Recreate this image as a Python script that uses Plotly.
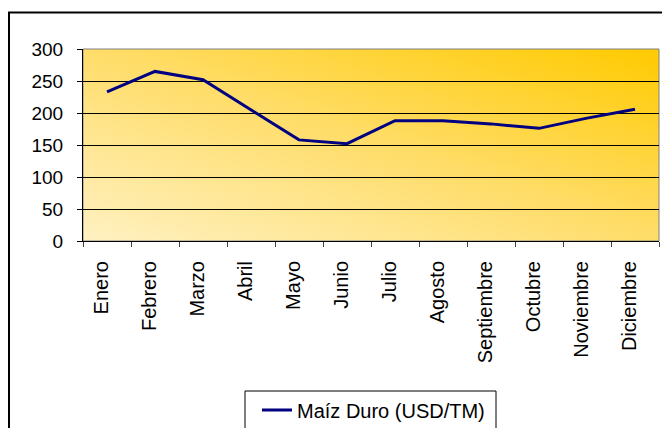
import base64
import plotly.graph_objects as go

meses = ["Enero", "Febrero", "Marzo", "Abril", "Mayo", "Junio", "Julio",
         "Agosto", "Septiembre", "Octubre", "Noviembre", "Diciembre"]
maiz_duro = [233, 265, 252, 205, 158, 152, 188, 188, 183, 176, 192, 206]
serie_nombre = "Maíz Duro (USD/TM)"
y_ticks = [0, 50, 100, 150, 200, 250, 300]

W, H = 662, 428
L, R, T, B = 83, 3, 49, 187  # plot area pixels: x 83..659, y 49..241
pw, ph = W - L - R, H - T - B

def px_x(px):
    return (px - L) / pw

def px_y(py):
    return (H - B - py) / ph

svg = ('<svg xmlns="http://www.w3.org/2000/svg" width="576" height="192" '
       'preserveAspectRatio="none">'
       '<defs><linearGradient id="g" x1="0" y1="1" x2="1" y2="0">'
       '<stop offset="0" stop-color="#FFF1C2"/>'
       '<stop offset="0.5" stop-color="#FFDD6A"/>'
       '<stop offset="1" stop-color="#FFCA00"/>'
       '</linearGradient></defs>'
       '<rect width="576" height="192" fill="url(#g)"/></svg>')
bg_src = "data:image/svg+xml;base64," + base64.b64encode(svg.encode()).decode()

FONT = "Liberation Sans, Arial, sans-serif"

fig = go.Figure()
fig.add_trace(go.Scatter(
    x=meses, y=maiz_duro, mode="lines", name=serie_nombre,
    line=dict(color="#000080", width=3),
))

fig.update_layout(
    width=W, height=H,
    margin=dict(l=L, r=R, t=T, b=B, autoexpand=False),
    paper_bgcolor="white",
    plot_bgcolor="rgba(0,0,0,0)",
    font=dict(family=FONT, size=19, color="black"),
    showlegend=True,
    legend=dict(
        x=px_x(257), xanchor="left",
        y=px_y(410), yanchor="middle",
        bgcolor="rgba(0,0,0,0)", borderwidth=0,
        font=dict(family=FONT, size=20, color="black"),
    ),
    images=[dict(
        source=bg_src, xref="paper", yref="paper",
        x=0, y=1, sizex=1, sizey=1, sizing="stretch",
        xanchor="left", yanchor="top", layer="below",
    )],
    shapes=[
        # plot area border (gray)
        dict(type="rect", xref="paper", yref="paper", x0=0, y0=0, x1=1, y1=1,
             line=dict(color="#808080", width=1), layer="below"),
        # outer chart border
        dict(type="rect", xref="paper", yref="paper",
             x0=px_x(9), y0=px_y(445), x1=px_x(680), y1=px_y(12.5),
             line=dict(color="black", width=2), fillcolor="rgba(0,0,0,0)"),
        # legend box
        dict(type="rect", xref="paper", yref="paper",
             x0=px_x(245), y0=px_y(445), x1=px_x(496), y1=px_y(391),
             line=dict(color="black", width=1), fillcolor="rgba(0,0,0,0)"),
    ],
)

fig.update_xaxes(
    type="category", tickangle=-90, range=[-0.5, len(meses) - 0.5],
    showline=True, linecolor="black", linewidth=1,
    ticks="outside", tickson="boundaries", ticklen=5, tickcolor="#404040",
    ticklabelstandoff=11, ticklabelshift=-6,
    showgrid=False,
    tickfont=dict(family=FONT, size=20, color="black"),
)
fig.update_yaxes(
    range=[0, 300], tickvals=y_ticks,
    showline=True, linecolor="black", linewidth=1,
    ticks="outside", ticklen=5, tickcolor="black",
    ticklabelstandoff=10,
    showgrid=True, gridcolor="black", gridwidth=1,
    zeroline=False,
    tickfont=dict(family=FONT, size=19, color="black"),
)

fig.write_html("out.html",
               config={"displayModeBar": False},
               post_script="document.body.style.margin='0';"
                           "document.body.style.padding='0';")
